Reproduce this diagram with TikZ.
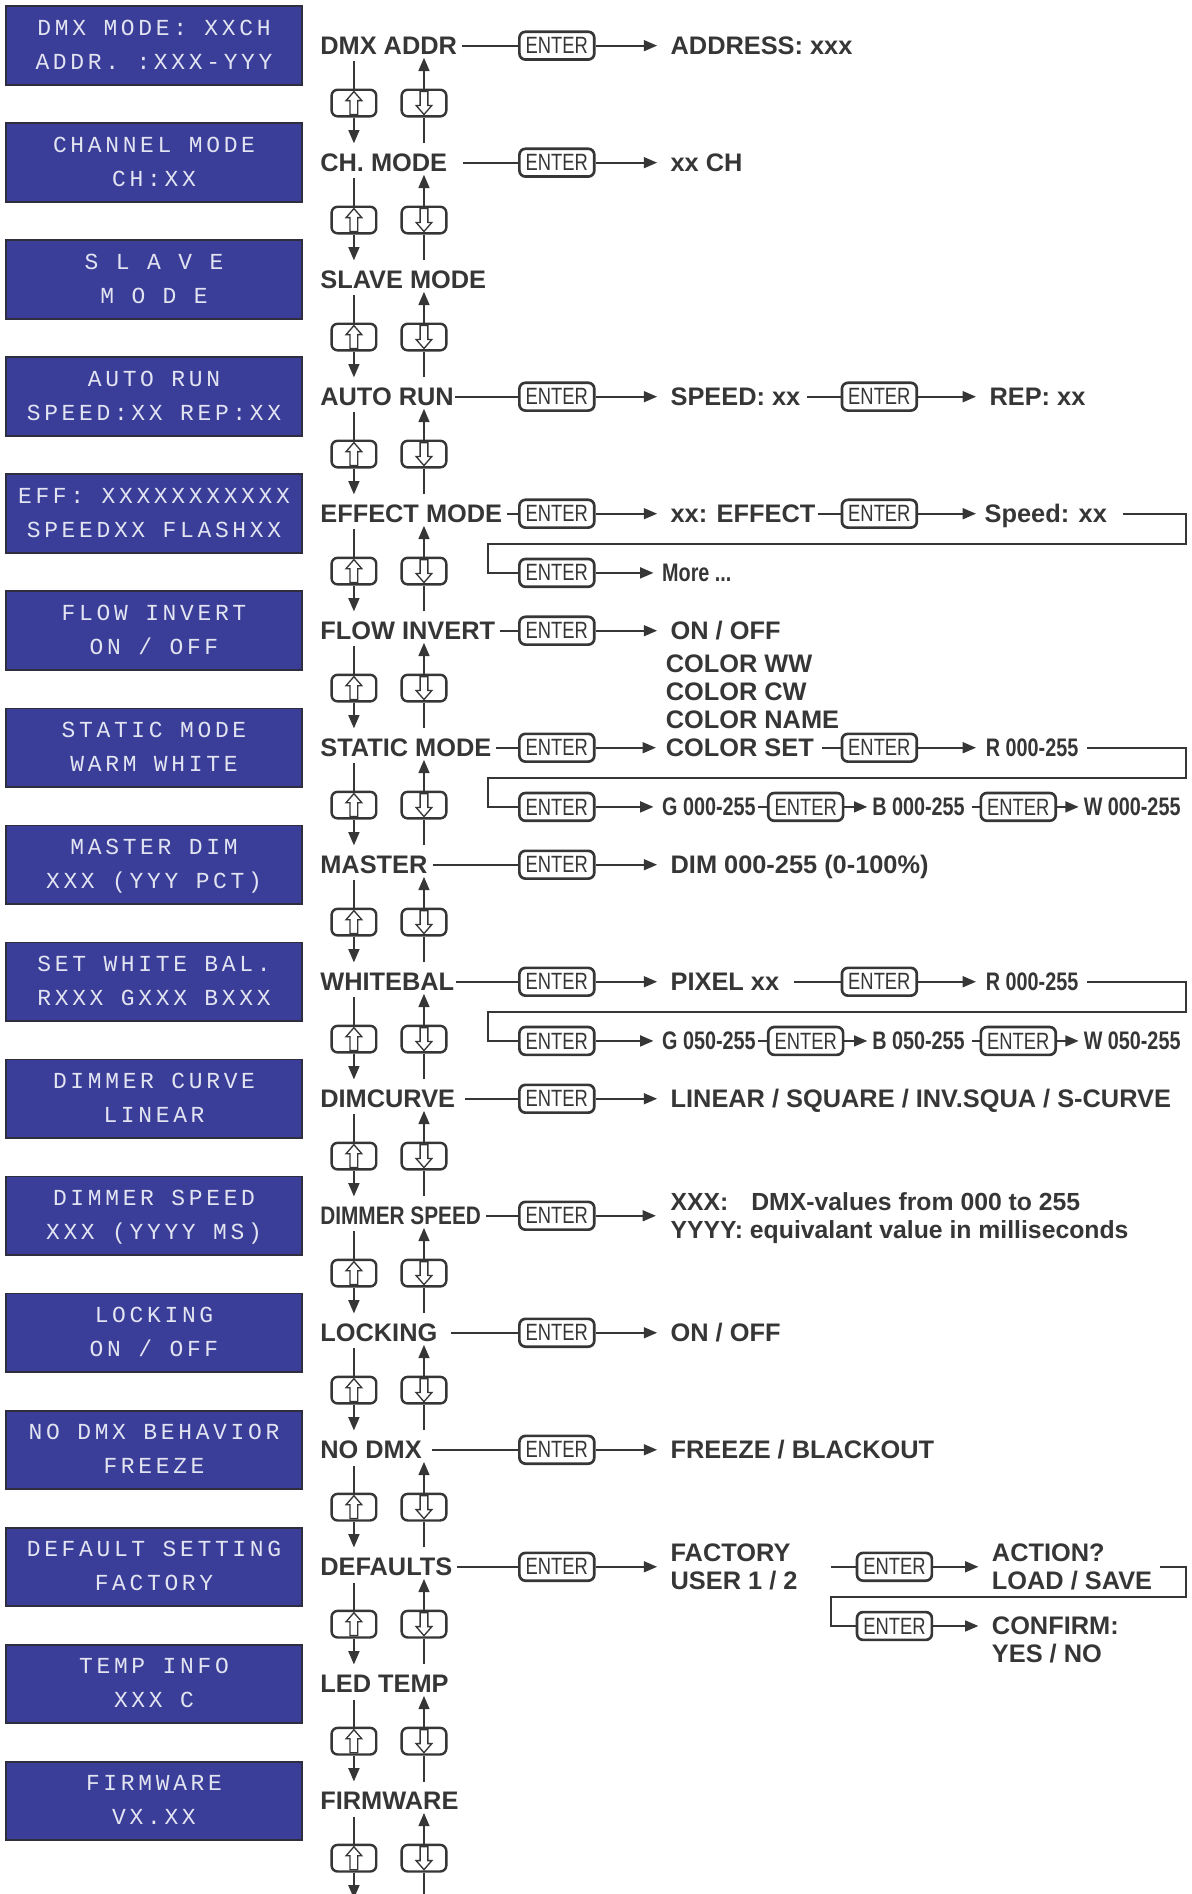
\documentclass[tikz,border=0pt]{standalone}
\usepackage{fontspec}
\setmainfont{Liberation Sans}
\newfontfamily\lcdfont[LetterSpace=16]{Liberation Mono}
\usepackage{graphicx}
\usetikzlibrary{arrows.meta, calc}
\definecolor{ink}{HTML}{363636}
\definecolor{lcdblue}{HTML}{3A3E98}
\definecolor{lcdedge}{HTML}{2E2E3E}
\definecolor{lcdtext}{HTML}{E2E4F2}
\newcommand{\ry}[1]{37.8+96.87*#1}
\newcommand{\narrowtxt}[2][0.78]{\scalebox{#1}[1]{#2}}
\newcommand{\upsym}[1]{\draw[ink, line width=1.1pt, fill=white] ($(#1)+(0,-9.5)$) -- ++(6.5,7.5) -- ++(-3.3,0) -- ++(0,11.5) -- ++(-6.4,0) -- ++(0,-11.5) -- ++(-3.3,0) -- cycle;}
\newcommand{\dnsym}[1]{\draw[ink, line width=1.1pt, fill=white] ($(#1)+(0,9.5)$) -- ++(6.5,-7.5) -- ++(-3.3,0) -- ++(0,-11.5) -- ++(-6.4,0) -- ++(0,11.5) -- ++(-3.3,0) -- cycle;}
\tikzset{
  lcd/.style={draw=lcdedge, line width=1.6pt, fill=lcdblue, minimum width=245pt, minimum height=65pt, inner sep=0pt, align=center, text=lcdtext, font=\lcdfont\fontsize{19}{28}\selectfont},
  menu/.style={anchor=west, inner xsep=4pt, inner ysep=0pt, text height=15pt, text depth=0pt, text=ink, font=\bfseries\fontsize{21}{23}\selectfont},
  val/.style={menu, inner xsep=0pt},
  vals/.style={anchor=west, inner sep=0pt, align=left, text=ink, font=\bfseries\fontsize{21}{23}\selectfont},
  enter/.style={draw=ink, line width=2.2pt, rounded corners=5pt, fill=white, minimum width=62pt, minimum height=23pt, inner sep=0pt, text=ink, font=\fontsize{19.5}{20}\selectfont},
  key/.style={draw=ink, line width=2pt, rounded corners=5pt, fill=white, minimum width=37pt, minimum height=22pt, inner sep=0pt},
  flow/.style={draw=ink, line width=1.6pt},
  arr/.style={-{Triangle[length=11pt,width=9pt]}},
  toval/.style={flow, arr, shorten >=#1},
  toval/.default=11pt
}
\begin{document}
\begin{tikzpicture}[x=1pt, y=-1pt]
\useasboundingbox (0,0) rectangle (986.8,1568);

% displays and menu entries
\foreach \i/\lab/\la/\lb in {
  0/{DMX ADDR}/{DMX MODE: XXCH}/{ADDR. :XXX-YYY},
  1/{CH. MODE}/{CHANNEL MODE}/{CH:XX},
  2/{SLAVE MODE}/{S L A V E}/{M O D E},
  3/{AUTO RUN}/{AUTO RUN}/{SPEED:XX REP:XX},
  4/{EFFECT MODE}/{EFF: XXXXXXXXXXX}/{SPEEDXX FLASHXX},
  5/{FLOW INVERT}/{FLOW INVERT}/{ON / OFF},
  6/{STATIC MODE}/{STATIC MODE}/{WARM WHITE},
  7/{MASTER}/{MASTER DIM}/{XXX (YYY PCT)},
  8/{WHITEBAL}/{SET WHITE BAL.}/{RXXX GXXX BXXX},
  9/{DIMCURVE}/{DIMMER CURVE}/{LINEAR},
  10/{\narrowtxt[0.82]{DIMMER SPEED}}/{DIMMER SPEED}/{XXX (YYYY MS)},
  11/{LOCKING}/{LOCKING}/{ON / OFF},
  12/{NO DMX}/{NO DMX BEHAVIOR}/{FREEZE},
  13/{DEFAULTS}/{DEFAULT SETTING}/{FACTORY},
  14/{LED TEMP}/{TEMP INFO}/{XXX C},
  15/{FIRMWARE}/{FIRMWARE}/{VX.XX}}
{
  \node[lcd] (d\i) at (127.5,{\ry{\i}}) {\strut\la\\\strut\lb};
  \node[menu] (m\i) at (261,{\ry{\i}}) {\lab};
}
\foreach \i in {0,...,16} \coordinate (r\i) at (265,{\ry{\i}});

% up / down keys between the entries
\foreach \i [evaluate=\i as \j using int(\i+1)] in {0,...,15}{
  \node[key] (ku\i) at (293,{\ry{\i}+47.5}) {};
  \node[key] (kd\i) at (351,{\ry{\i}+47.5}) {};
  \upsym{ku\i}
  \dnsym{kd\i}
  \draw[flow] ($(r\i -| ku\i)+(0,13)$) -- (ku\i.north);
  \draw[flow, arr] (ku\i.south) -- ($(r\j -| ku\i)+(0,-16)$);
  \draw[flow] ($(r\j -| kd\i)+(0,-16)$) -- (kd\i.south);
  \draw[flow, arr] (kd\i.north) -- ($(r\i -| kd\i)+(0,10)$);
}

% DMX ADDR
\node[enter] (e0) at (461,{\ry{0}}) {\narrowtxt{ENTER}};
\node[val] (v0) at (555,{\ry{0}}) {ADDRESS: xxx};
\draw[flow] (m0.east) -- (e0.west);
\draw[toval] (e0.east) -- (v0.west);

% CH. MODE
\node[enter] (e1) at (461,{\ry{1}}) {\narrowtxt{ENTER}};
\node[val] (v1) at (555,{\ry{1}}) {xx CH};
\draw[flow] ([xshift=9pt]m1.east) -- (e1.west);
\draw[toval] (e1.east) -- (v1.west);

% AUTO RUN
\node[enter] (e3) at (461,{\ry{3}}) {\narrowtxt{ENTER}};
\node[val] (v3) at (555,{\ry{3}}) {SPEED: xx};
\node[enter] (e3b) at (728,{\ry{3}}) {\narrowtxt{ENTER}};
\node[val] (v3b) at (819,{\ry{3}}) {REP: xx};
\draw[flow] ([xshift=-3pt]m3.east) -- (e3.west);
\draw[toval] (e3.east) -- (v3.west);
\draw[flow] ([xshift=5pt]v3.east) -- (e3b.west);
\draw[toval] (e3b.east) -- (v3b.west);

% EFFECT MODE
\node[enter] (e4) at (461,{\ry{4}}) {\narrowtxt{ENTER}};
\node[val] (v4) at (555,{\ry{4}}) {xx: EFFECT};
\node[enter] (e4b) at (728,{\ry{4}}) {\narrowtxt{ENTER}};
\node[val] (v4b) at (815,{\ry{4}}) {Speed: xx};
\coordinate (t4) at (982,{\ry{4}+25}); \coordinate (u4) at (404,{\ry{4}+25});
\node[enter] (e4c) at (461,{\ry{4}+49}) {\narrowtxt{ENTER}};
\node[val] (v4c) at (548,{\ry{4}+49}) {\narrowtxt{More ...}};
\draw[flow] (m4.east) -- (e4.west);
\draw[toval] (e4.east) -- (v4.west);
\draw[flow] ([xshift=2pt]v4.east) -- (e4b.west);
\draw[toval=7pt] (e4b.east) -- (v4b.west);
\draw[flow] ([xshift=13pt]v4b.east) -| (t4) -- (u4) |- (e4c.west);
\draw[toval=7pt] (e4c.east) -- (v4c.west);

% FLOW INVERT
\node[enter] (e5) at (461,{\ry{5}}) {\narrowtxt{ENTER}};
\node[val] (v5) at (555,{\ry{5}}) {ON / OFF};
\draw[flow] (m5.east) -- (e5.west);
\draw[toval] (e5.east) -- (v5.west);

% STATIC MODE
\node[enter] (e6) at (461,{\ry{6}}) {\narrowtxt{ENTER}};
\node[val] (v6) at (551,{\ry{6}}) {COLOR SET};
\node[vals, anchor=south west] (v6l) at ($(v6.north west)+(0,-8)$) {COLOR WW\\COLOR CW\\COLOR NAME};
\node[enter] (e6b) at (728,{\ry{6}}) {\narrowtxt{ENTER}};
\node[val] (v6b) at (816,{\ry{6}}) {\narrowtxt{R 000-255}};
\coordinate (t6) at (982,{\ry{6}+25}); \coordinate (u6) at (404,{\ry{6}+25});
\node[enter] (e6c) at (461,{\ry{6}+49}) {\narrowtxt{ENTER}};
\node[val] (v6c) at (548,{\ry{6}+49}) {\narrowtxt{G 000-255}};
\node[enter] (e6d) at (667,{\ry{6}+49}) {\narrowtxt{ENTER}};
\node[val] (v6d) at (722,{\ry{6}+49}) {\narrowtxt{B 000-255}};
\node[enter] (e6e) at (843,{\ry{6}+49}) {\narrowtxt{ENTER}};
\node[val] (v6e) at (897,{\ry{6}+49}) {\narrowtxt{W 000-255}};
\draw[flow] (m6.east) -- (e6.west);
\draw[toval=8pt] (e6.east) -- (v6.west);
\draw[flow] ([xshift=7pt]v6.east) -- (e6b.west);
\draw[toval=8pt] (e6b.east) -- (v6b.west);
\draw[flow] ([xshift=7pt]v6b.east) -| (t6) -- (u6) |- (e6c.west);
\draw[toval=7pt] (e6c.east) -- (v6c.west);
\draw[flow] ([xshift=2pt]v6c.east) -- (e6d.west);
\draw[toval=4pt] (e6d.east) -- (v6d.west);
\draw[flow] ([xshift=6pt]v6d.east) -- (e6e.west);
\draw[toval=4pt] (e6e.east) -- (v6e.west);

% MASTER
\node[enter] (e7) at (461,{\ry{7}}) {\narrowtxt{ENTER}};
\node[val] (v7) at (555,{\ry{7}}) {DIM 000-255 (0-100\%)};
\draw[flow] (m7.east) -- (e7.west);
\draw[toval] (e7.east) -- (v7.west);

% WHITEBAL
\node[enter] (e8) at (461,{\ry{8}}) {\narrowtxt{ENTER}};
\node[val] (v8) at (555,{\ry{8}}) {PIXEL xx};
\node[enter] (e8b) at (728,{\ry{8}}) {\narrowtxt{ENTER}};
\node[val] (v8b) at (816,{\ry{8}}) {\narrowtxt{R 000-255}};
\coordinate (t8) at (982,{\ry{8}+25}); \coordinate (u8) at (404,{\ry{8}+25});
\node[enter] (e8c) at (461,{\ry{8}+49}) {\narrowtxt{ENTER}};
\node[val] (v8c) at (548,{\ry{8}+49}) {\narrowtxt{G 050-255}};
\node[enter] (e8d) at (667,{\ry{8}+49}) {\narrowtxt{ENTER}};
\node[val] (v8d) at (722,{\ry{8}+49}) {\narrowtxt{B 050-255}};
\node[enter] (e8e) at (843,{\ry{8}+49}) {\narrowtxt{ENTER}};
\node[val] (v8e) at (897,{\ry{8}+49}) {\narrowtxt{W 050-255}};
\draw[flow] ([xshift=-3pt]m8.east) -- (e8.west);
\draw[toval] (e8.east) -- (v8.west);
\draw[flow] ([xshift=12pt]v8.east) -- (e8b.west);
\draw[toval=8pt] (e8b.east) -- (v8b.west);
\draw[flow] ([xshift=7pt]v8b.east) -| (t8) -- (u8) |- (e8c.west);
\draw[toval=7pt] (e8c.east) -- (v8c.west);
\draw[flow] ([xshift=2pt]v8c.east) -- (e8d.west);
\draw[toval=4pt] (e8d.east) -- (v8d.west);
\draw[flow] ([xshift=6pt]v8d.east) -- (e8e.west);
\draw[toval=4pt] (e8e.east) -- (v8e.west);

% DIMCURVE
\node[enter] (e9) at (461,{\ry{9}}) {\narrowtxt{ENTER}};
\node[val] (v9) at (555,{\ry{9}}) {LINEAR / SQUARE / INV.SQUA / S-CURVE};
\draw[flow] ([xshift=4pt]m9.east) -- (e9.west);
\draw[toval] (e9.east) -- (v9.west);

% DIMMER SPEED
\node[enter] (e10) at (461,{\ry{10}}) {\narrowtxt{ENTER}};
\node[vals, font=\bfseries\fontsize{20.5}{23}\selectfont] (v10) at (555,{\ry{10}+2}) {XXX:\hspace{19pt}DMX-values from 000 to 255\\YYYY: equivalant value in milliseconds};
\draw[flow] (m10.east) -- (e10.west);
\draw[toval=12pt] (e10.east) -- (e10.east -| v10.west);

% LOCKING
\node[enter] (e11) at (461,{\ry{11}}) {\narrowtxt{ENTER}};
\node[val] (v11) at (555,{\ry{11}}) {ON / OFF};
\draw[flow] ([xshift=7pt]m11.east) -- (e11.west);
\draw[toval] (e11.east) -- (v11.west);

% NO DMX
\node[enter] (e12) at (461,{\ry{12}}) {\narrowtxt{ENTER}};
\node[val] (v12) at (555,{\ry{12}}) {FREEZE / BLACKOUT};
\draw[flow] ([xshift=4pt]m12.east) -- (e12.west);
\draw[toval] (e12.east) -- (v12.west);

% DEFAULTS
\node[enter] (e13) at (461,{\ry{13}}) {\narrowtxt{ENTER}};
\node[vals] (v13) at (555,{\ry{13}}) {FACTORY\\USER 1 / 2};
\coordinate (k13) at (688,{\ry{13}});
\node[enter] (e13b) at (740.5,{\ry{13}}) {\narrowtxt{ENTER}};
\node[vals] (v13b) at (821,{\ry{13}}) {ACTION?\\LOAD / SAVE};
\coordinate (t13) at (982,{\ry{13}+25}); \coordinate (u13) at (688,{\ry{13}+25});
\node[enter] (e13c) at (740.5,{\ry{13}+49}) {\narrowtxt{ENTER}};
\node[vals, anchor=north west] (v13c) at (821,{\ry{13}+41.4}) {CONFIRM:\\YES / NO};
\draw[flow] (m13.east) -- (e13.west);
\draw[toval] (e13.east) -- (v13.west);
\draw[flow] (k13) -- (e13b.west);
\draw[toval] (e13b.east) -- (v13b.west);
\draw[flow] ([xshift=6pt]v13b.east) -| (t13) -- (u13) |- (e13c.west);
\draw[toval] (e13c.east) -- (e13c.east -| v13c.west);

\end{tikzpicture}
\end{document}
